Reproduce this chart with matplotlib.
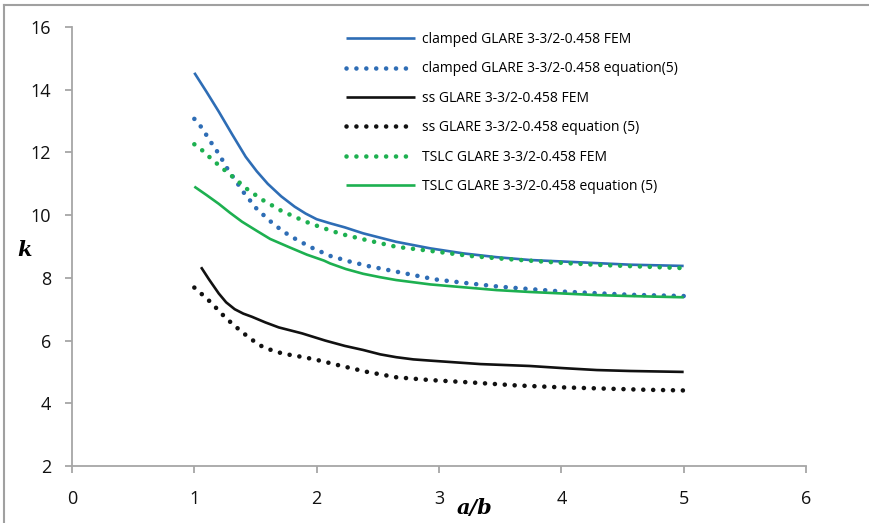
import matplotlib
matplotlib.use("Agg")
import matplotlib.pyplot as plt
from matplotlib.lines import Line2D

# ---- data ----
x_clamped_fem = [1.0, 1.1, 1.2, 1.31, 1.42, 1.51, 1.6, 1.71, 1.82, 1.91, 2.0, 2.11, 2.23, 2.38, 2.65, 2.93, 3.2, 3.47, 3.74, 4.02, 4.29, 4.56, 5.0]
k_clamped_fem = [14.54, 13.93, 13.3, 12.57, 11.86, 11.4, 11.0, 10.6, 10.27, 10.05, 9.87, 9.74, 9.61, 9.42, 9.15, 8.94, 8.78, 8.66, 8.57, 8.52, 8.47, 8.42, 8.38]

x_clamped_eq = [1.0, 1.065, 1.11, 1.16, 1.21, 1.25, 1.3, 1.35, 1.4, 1.455, 1.51, 1.575, 1.64, 1.71, 1.785, 1.87, 1.95, 2.03, 2.11, 2.27, 2.44, 2.61, 2.79, 2.97, 3.23, 3.49, 3.75, 4.02, 4.29, 4.56, 5.0]
k_clamped_eq = [13.07, 12.77, 12.48, 12.18, 11.9, 11.6, 11.31, 11.03, 10.74, 10.47, 10.2, 9.97, 9.74, 9.53, 9.33, 9.15, 8.98, 8.84, 8.70, 8.52, 8.36, 8.23, 8.09, 7.95, 7.83, 7.72, 7.64, 7.56, 7.51, 7.46, 7.42]

x_ss_fem = [1.055, 1.12, 1.2, 1.26, 1.33, 1.4, 1.47, 1.58, 1.69, 1.88, 2.07, 2.23, 2.38, 2.52, 2.65, 2.79, 2.93, 3.34, 3.74, 4.02, 4.29, 4.56, 5.0]
k_ss_fem = [8.34, 7.95, 7.5, 7.22, 7.0, 6.86, 6.76, 6.58, 6.42, 6.23, 6.0, 5.83, 5.70, 5.56, 5.47, 5.40, 5.36, 5.25, 5.19, 5.12, 5.06, 5.03, 5.0]

x_ss_eq = [1.0, 1.07, 1.14, 1.2, 1.26, 1.33, 1.4, 1.47, 1.54, 1.62, 1.71, 1.8, 1.88, 1.97, 2.06, 2.14, 2.4, 2.65, 2.93, 3.28, 3.63, 3.99, 4.34, 4.7, 5.0]
k_ss_eq = [7.69, 7.45, 7.2, 6.95, 6.71, 6.47, 6.24, 6.03, 5.84, 5.71, 5.6, 5.53, 5.48, 5.41, 5.33, 5.25, 5.01, 4.83, 4.74, 4.66, 4.57, 4.51, 4.47, 4.43, 4.41]

x_tslc_fem = [1.0, 1.08, 1.14, 1.21, 1.28, 1.35, 1.41, 1.49, 1.56, 1.64, 1.71, 1.79, 1.87, 1.95, 2.04, 2.12, 2.21, 2.38, 2.65, 2.93, 3.25, 3.52, 3.77, 4.04, 4.32, 4.59, 5.0]
k_tslc_fem = [12.26, 12.02, 11.79, 11.56, 11.33, 11.11, 10.89, 10.67, 10.48, 10.3, 10.14, 10.0, 9.86, 9.73, 9.61, 9.5, 9.39, 9.23, 8.99, 8.86, 8.70, 8.61, 8.54, 8.47, 8.41, 8.37, 8.31]

x_tslc_eq = [1.0, 1.1, 1.2, 1.29, 1.39, 1.51, 1.62, 1.78, 1.92, 2.06, 2.11, 2.24, 2.38, 2.52, 2.65, 2.93, 3.2, 3.47, 3.74, 4.02, 4.29, 4.56, 5.0]
k_tslc_eq = [10.91, 10.64, 10.36, 10.08, 9.79, 9.5, 9.24, 8.97, 8.74, 8.55, 8.46, 8.28, 8.13, 8.02, 7.93, 7.79, 7.70, 7.61, 7.55, 7.50, 7.45, 7.42, 7.38]

labels = [
    "clamped GLARE 3-3/2-0.458 FEM",
    "clamped GLARE 3-3/2-0.458 equation(5)",
    "ss GLARE 3-3/2-0.458 FEM",
    "ss GLARE 3-3/2-0.458 equation (5)",
    "TSLC GLARE 3-3/2-0.458 FEM",
    "TSLC GLARE 3-3/2-0.458 equation (5)",
]
x_ticks = [0, 1, 2, 3, 4, 5, 6]
y_ticks = [2, 4, 6, 8, 10, 12, 14, 16]

BLUE = "#2E6DB5"
GREEN = "#1DB050"
BLACK = "#111111"
GRAY = "#A6A6A6"

fig = plt.figure(figsize=(8.7, 5.23), dpi=100)
ax = fig.add_axes([72/870, 1 - 466/523, (806-72)/870, (466-27)/523])

dot = dict(linestyle=(0, (0.01, 2.15)), dash_capstyle="round", linewidth=3.3)
solid = dict(linestyle="-", linewidth=1.9, solid_capstyle="butt", solid_joinstyle="round")

ax.plot(x_clamped_fem, k_clamped_fem, color=BLUE, label=labels[0], **solid)
ax.plot(x_clamped_eq, k_clamped_eq, color=BLUE, label=labels[1], **dot)
ax.plot(x_ss_fem, k_ss_fem, color=BLACK, label=labels[2], **solid)
ax.plot(x_ss_eq, k_ss_eq, color=BLACK, label=labels[3], **dot)
ax.plot(x_tslc_fem, k_tslc_fem, color=GREEN, label=labels[4], **dot)
ax.plot(x_tslc_eq, k_tslc_eq, color=GREEN, label=labels[5], **solid)

ax.set_xlim(0, 6)
ax.set_ylim(2, 16)
ax.set_xticks(x_ticks)
ax.set_yticks(y_ticks)
for s in ["top", "right"]:
    ax.spines[s].set_visible(False)
for s in ["left", "bottom"]:
    ax.spines[s].set_color(GRAY)
    ax.spines[s].set_linewidth(1.3)
ax.tick_params(axis="both", direction="out", length=5, width=1.3, color=GRAY,
               labelsize=13, labelcolor="#111111")
ax.tick_params(axis="y", pad=10)
ax.tick_params(axis="x", pad=12)
for lab in ax.get_xticklabels() + ax.get_yticklabels():
    lab.set_family("Open Sans")

fig.text(25/870, 1 - 250/523, "k", fontsize=15, fontweight="bold", fontstyle="italic",
         family="DejaVu Serif", ha="center", va="center")
fig.text(475/870, 1 - 508/523, "a/b", fontsize=15, fontweight="bold", fontstyle="italic",
         family="DejaVu Serif", ha="center", va="center")

leg = ax.legend(loc="upper left", bbox_to_anchor=((346-72)/734, 1 - (32-27)/439),
                frameon=False, handlelength=5.0, handletextpad=0.45,
                labelspacing=1.04, borderaxespad=0, borderpad=0,
                prop={"family": "Open Sans", "size": 10})

# figure border (left and top)
fig.add_artist(Line2D([4/870, 4/870], [0, 1 - 5/523], color="#A0A0A0", linewidth=1.5,
                      transform=fig.transFigure))
fig.add_artist(Line2D([4/870, 1], [1 - 5/523, 1 - 5/523], color="#A0A0A0", linewidth=1.5,
                      transform=fig.transFigure))

fig.savefig("out.png", dpi=100)
